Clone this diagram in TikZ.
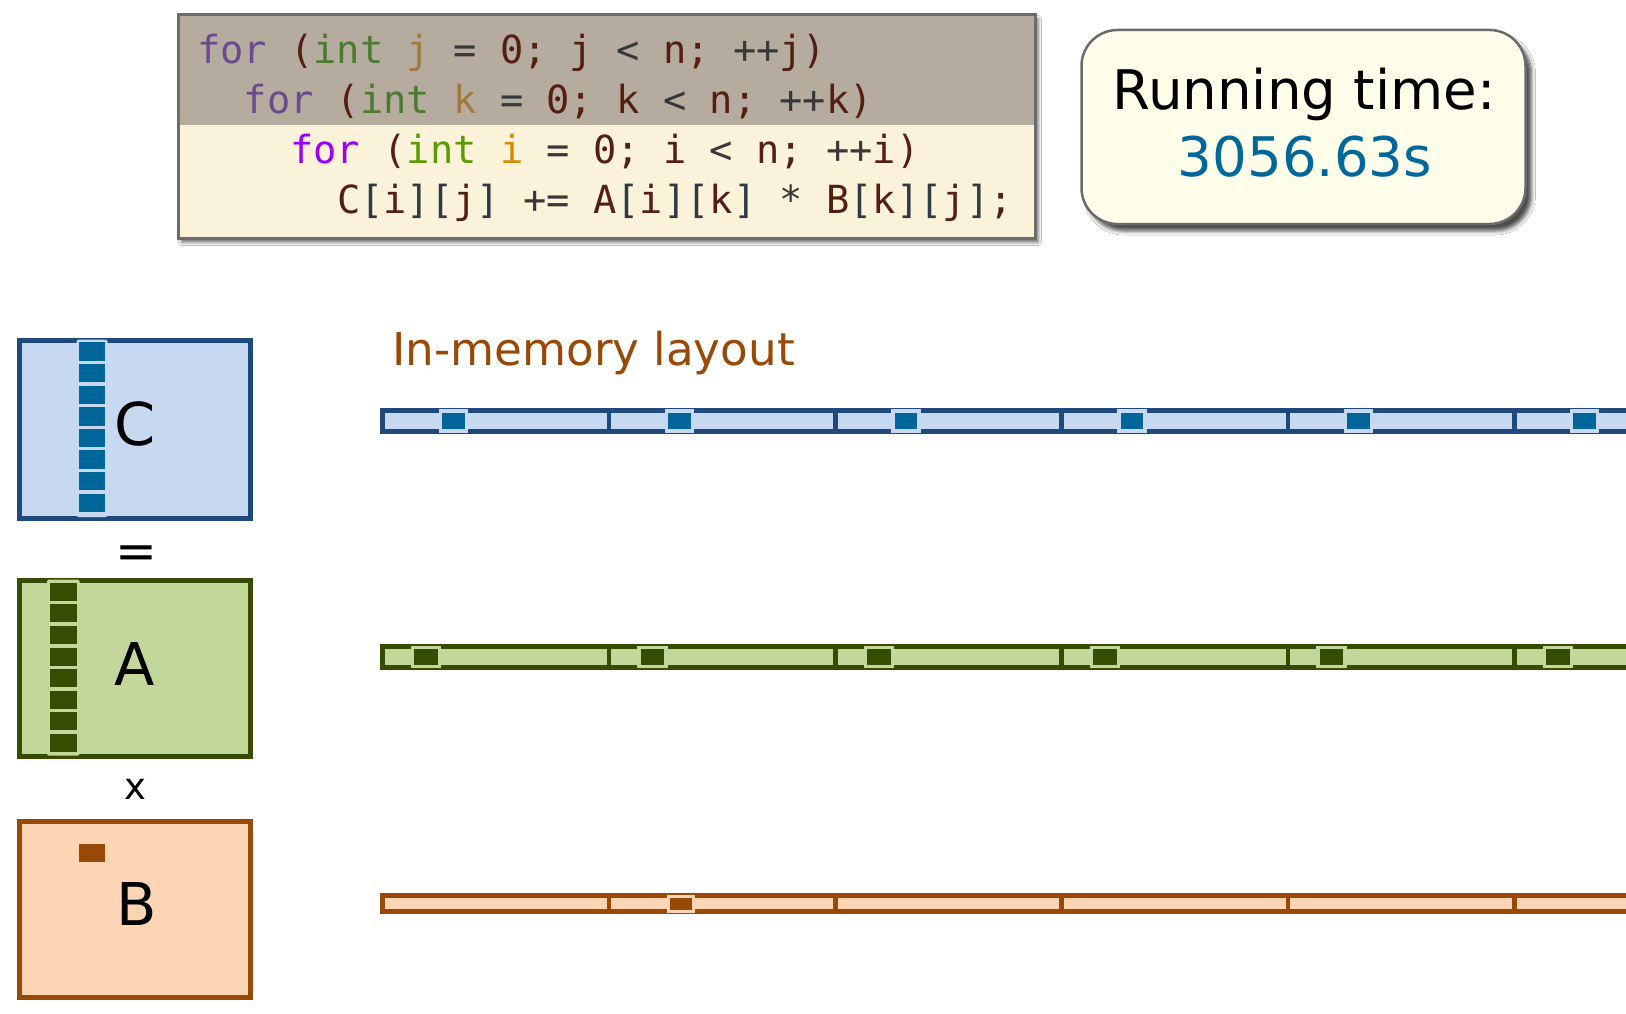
\documentclass[tikz,border=0pt]{standalone}
\usepackage{fontspec}
\setmainfont{DejaVu Sans}
\newfontfamily\codefont{DejaVu Sans Mono}
\usetikzlibrary{shadows.blur}
\definecolor{cBord}{HTML}{1F497D}
\definecolor{cFill}{HTML}{C6D9F1}
\definecolor{cDark}{HTML}{006699}
\definecolor{aBord}{HTML}{344D00}
\definecolor{aFill}{HTML}{C4D79B}
\definecolor{bBord}{HTML}{984807}
\definecolor{bFill}{HTML}{FCD5B4}
\definecolor{kwdim}{HTML}{6A4B8C}
\definecolor{intdim}{HTML}{4C7A30}
\definecolor{vardim}{HTML}{A07A3C}
\definecolor{brn}{HTML}{541E12}
\definecolor{opc}{HTML}{383838}
\definecolor{kwb}{HTML}{9A00FF}
\definecolor{intb}{HTML}{5C9A00}
\definecolor{varb}{HTML}{D29000}
\definecolor{brk}{HTML}{2E3A44}
\definecolor{bandc}{HTML}{B5AC9F}
\definecolor{codecream}{HTML}{FBF2DA}
\definecolor{rtfill}{HTML}{FEFEEB}
\definecolor{rtblue}{HTML}{00679A}
\tikzset{
  codeline/.style={font=\codefont\fontsize{38.7}{46}\selectfont, inner sep=0pt, anchor=base west},
  mat/.style={line width=5pt, minimum width=231pt, inner sep=0pt, outer sep=0pt},
  matlabel/.style={font=\fontsize{59}{64}\selectfont, inner sep=0pt, anchor=base},
  opsign/.style={inner sep=0pt},
  bigtext/.style={font=\fontsize{54.6}{60}\selectfont, inner sep=0pt, anchor=base},
}
\begin{document}
\begin{tikzpicture}[x=1pt,y=-1pt]
\useasboundingbox (0,0) rectangle (1626,1014);
\clip (0,0) rectangle (1626,1014);
\fill[white] (0,0) rectangle (1626,1014);

% ---------- code box ----------
\node[fill=codecream, minimum width=857pt, minimum height=224pt, inner sep=0pt, outer sep=0pt,
      blur shadow={shadow xshift=3pt, shadow yshift=-4pt, shadow blur radius=3pt, shadow opacity=55}]
      (code) at (607,126.5) {};
\fill[bandc] (code.north west) rectangle (1035.5,125);
\draw[color=gray!85!black, line width=3pt] (code.north west) rectangle (code.south east);

\node[codeline] (l1) at (197,64) {\textcolor{kwdim}{for} \textcolor{brn}{(}\textcolor{intdim}{int} \textcolor{vardim}{j} \textcolor{opc}{=} \textcolor{brn}{0;} \textcolor{brn}{j} \textcolor{opc}{<} \textcolor{brn}{n;} \textcolor{opc}{++}\textcolor{brn}{j)}};
\node[codeline] (l2) at (243.6,114) {\textcolor{kwdim}{for} \textcolor{brn}{(}\textcolor{intdim}{int} \textcolor{vardim}{k} \textcolor{opc}{=} \textcolor{brn}{0;} \textcolor{brn}{k} \textcolor{opc}{<} \textcolor{brn}{n;} \textcolor{opc}{++}\textcolor{brn}{k)}};
\node[codeline] (l3) at (290.2,164) {\textcolor{kwb}{for} \textcolor{brn}{(}\textcolor{intb}{int} \textcolor{varb}{i} \textcolor{opc}{=} \textcolor{brn}{0;} \textcolor{brn}{i} \textcolor{opc}{<} \textcolor{brn}{n;} \textcolor{opc}{++}\textcolor{brn}{i)}};
\node[codeline] (l4) at (336.8,214) {\textcolor{brn}{C}\textcolor{brk}{[}\textcolor{brn}{i}\textcolor{brk}{][}\textcolor{brn}{j}\textcolor{brk}{]} \textcolor{opc}{+=} \textcolor{brn}{A}\textcolor{brk}{[}\textcolor{brn}{i}\textcolor{brk}{][}\textcolor{brn}{k}\textcolor{brk}{]} \textcolor{opc}{*} \textcolor{brn}{B}\textcolor{brk}{[}\textcolor{brn}{k}\textcolor{brk}{][}\textcolor{brn}{j}\textcolor{brk}{]}\textcolor{brn}{;}};

% ---------- running time box ----------
\node[draw=black!58, line width=2.5pt, fill=rtfill, rounded corners=36pt,
      minimum width=444pt, minimum height=194pt, inner sep=0pt, outer sep=0pt,
      blur shadow={shadow xshift=6pt, shadow yshift=-7pt, shadow blur radius=4pt, shadow opacity=70}]
      (rt) at (1303.5,127) {};
\node[bigtext] (rt1) at (1304,110) {Running time:};
\node[bigtext, text=rtblue] (rt2) at (1305,177) {3056.63s};

% ---------- matrices ----------
\node[mat, draw=cBord, fill=cFill, minimum height=178pt] (C) at (135,429.5) {};
\fill[cFill, rounded corners=1.5pt] (76.5,339.5) rectangle (107.5,517);
\foreach \k in {0,...,7} \fill[cDark] (79,342.3+21.6*\k) rectangle (105,360.8+21.6*\k);
\node[matlabel] (Clab) at (135.5,445) {C};

\node[opsign, font=\fontsize{50}{56}\selectfont] (eq) at (136,557) {=};

\node[mat, draw=aBord, fill=aFill, minimum height=176pt] (A) at (135,668.5) {};
\fill[aFill, rounded corners=1.5pt] (47,579.5) rectangle (79.5,755.5);
\foreach \k in {0,...,7} \fill[aBord] (50,582.7+21.6*\k) rectangle (76.5,600.7+21.6*\k);
\node[matlabel] (Alab) at (135,685) {A};

\node[opsign, font=\fontsize{37}{42}\selectfont] (times) at (135.5,789) {x};

\node[mat, draw=bBord, fill=bFill, minimum height=176pt] (B) at (135,909.5) {};
\fill[bBord] (79,844) rectangle (105,862);
\node[matlabel] (Blab) at (136.5,925) {B};

% ---------- in-memory layout ----------
\node[font=\fontsize{45.2}{50}\selectfont, text=bBord, inner sep=0pt, anchor=base] (lay) at (593.5,365) {In-memory layout};

% C bar
\fill[cFill] (382.5,410.5) rectangle (1640,431.5);
\draw[cBord, line width=5pt] (1640,410.5) -- (382.5,410.5) -- (382.5,431.5) -- (1640,431.5);
\foreach \k in {1,...,5} \draw[cBord, line width=4.5pt] (382.5+226.4*\k,410.5) -- (382.5+226.4*\k,431.5);
\foreach \k in {0,...,5} \draw[cFill, fill=cDark, line width=3.5pt] (440.5+226.2*\k,411) rectangle (466.5+226.2*\k,431);

% A bar
\fill[aFill] (382.5,646.5) rectangle (1640,667.5);
\draw[aBord, line width=5pt] (1640,646.5) -- (382.5,646.5) -- (382.5,667.5) -- (1640,667.5);
\foreach \k in {1,...,5} \draw[aBord, line width=4.5pt] (382.5+226.4*\k,646.5) -- (382.5+226.4*\k,667.5);
\foreach \k in {0,...,5} \draw[aFill, fill=aBord, line width=3.5pt] (412.5+226.4*\k,647.5) rectangle (439.5+226.4*\k,666.5);

% B bar
\fill[bFill] (382.5,895.5) rectangle (1640,911.5);
\draw[bBord, line width=5pt] (1640,895.5) -- (382.5,895.5) -- (382.5,911.5) -- (1640,911.5);
\foreach \k in {1,...,5} \draw[bBord, line width=4.5pt] (382.5+226.4*\k,895.5) -- (382.5+226.4*\k,911.5);
\draw[bFill, fill=bBord, line width=3pt] (668,896.5) rectangle (693.5,911);
\end{tikzpicture}
\end{document}
